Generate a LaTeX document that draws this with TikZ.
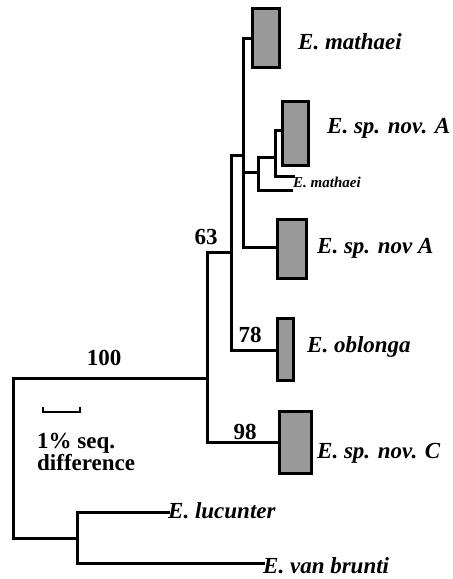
\documentclass[tikz,border=0pt]{standalone}
\usepackage{fontspec}
\setmainfont{Liberation Serif}
\begin{document}
\begin{tikzpicture}[x=1pt,y=-1pt,
  branch/.style={line width=3pt, line cap=rect},
  otu/.style={draw=black, line width=3.6pt, fill=black!40, inner sep=0pt, outer sep=0pt},
  taxon/.style={anchor=west, inner sep=0pt, font=\fontsize{23}{24}\selectfont\bfseries\itshape},
  smalltaxon/.style={anchor=west, inner sep=0pt, font=\fontsize{15}{16}\selectfont\bfseries\itshape},
  boot/.style={inner sep=0pt, font=\fontsize{23}{24}\selectfont\bfseries},
  scaletxt/.style={anchor=west, inner sep=0pt, align=left, font=\fontsize{23}{21}\selectfont\bfseries}]
\useasboundingbox (0,0) rectangle (453,579);
% boxes
\node[otu, minimum width=27pt, minimum height=59pt] (b1) at (266,38) {};
\node[otu, minimum width=26pt, minimum height=64pt] (b2) at (295.5,133.5) {};
\node[otu, minimum width=29pt, minimum height=59pt] (b3) at (292,249) {};
\node[otu, minimum width=16pt, minimum height=62pt] (b4) at (285.5,349.5) {};
\node[otu, minimum width=32pt, minimum height=62pt] (b5) at (295.5,442.5) {};
% taxon labels
\node[taxon] (l1) at (298,42) {E. mathaei};
\node[taxon] (l2) at (327,128) {E. sp. nov. A};
\node[smalltaxon] (l3) at (293,182) {E. mathaei};
\node[taxon] (l4) at (317,248) {E. sp. nov A};
\node[taxon] (l5) at (307,347) {E. oblonga};
\node[taxon] (l6) at (317,453) {E. sp. nov. C};
\node[taxon] (l7) at (168,511) {E. lucunter};
\node[taxon] (l8) at (263,566) {E. van brunti};
% bootstrap values
\node[boot] (s100) at (104,358) {100};
\node[boot] (s63) at (206,237) {63};
\node[boot] (s78) at (250,335) {78};
\node[boot] (s98) at (245,432) {98};
% internal nodes
\coordinate (Rt) at (13,378);
\coordinate (Rb) at (13,538);
\coordinate (Lm) at (77,538);
\coordinate (Lt) at (77,512);
\coordinate (Lb) at (77,563);
\coordinate (Em) at (207,378);
\coordinate (Et) at (207,252);
\coordinate (Eb) at (207,442);
\coordinate (Dm) at (231,252);
\coordinate (Dt) at (231,155);
\coordinate (Db) at (231,350);
\coordinate (Am) at (243,155);
\coordinate (At) at (243,38);
\coordinate (Ab) at (243,247);
\coordinate (Bm) at (243,172);
\coordinate (Bc) at (258,172);
\coordinate (Bt) at (258,157);
\coordinate (Bb) at (258,190);
\coordinate (Ct) at (275,130);
\coordinate (Cb) at (275,176);
\coordinate (Cm) at (275,157);
\coordinate (Bend) at (291,190);
% tree
\draw[branch] (Rt) -- (Rb);
\draw[branch] (Rt) -- (Em);
\draw[branch] (Rb) -- (Lm);
\draw[branch] (Lt) -- (Lb);
\draw[branch] (Lt) -- (l7.west |- Lt);
\draw[branch] (Lb) -- (l8.west |- Lb);
\draw[branch] (Et) -- (Eb);
\draw[branch] (Eb) -- (b5.west |- Eb);
\draw[branch] (Et) -- (Dm);
\draw[branch] (Dt) -- (Db);
\draw[branch] (Db) -- (b4.west |- Db);
\draw[branch] (Dt) -- (Am);
\draw[branch] (At) -- (Ab);
\draw[branch] (At) -- (b1.west |- At);
\draw[branch] (Ab) -- (b3.west |- Ab);
\draw[branch] (Bm) -- (Bc);
\draw[branch] (Bt) -- (Bb);
\draw[branch] (Bb) -- (Bend);
\draw[branch] (Bt) -- (Cm);
\draw[branch] (Ct) -- (Cb);
\draw[branch] (Ct) -- (b2.west |- Ct);
\draw[branch] (Cb) -- (l3.west |- Cb);
% scale bar
\coordinate (sb1) at (43,407);
\coordinate (sb2) at (80,407);
\draw[line width=2.2pt] (sb1) -- ++(0,5) -| (sb2);
\node[scaletxt] (scl) at (37,452) {1\% seq.\\difference};
\end{tikzpicture}
\end{document}
